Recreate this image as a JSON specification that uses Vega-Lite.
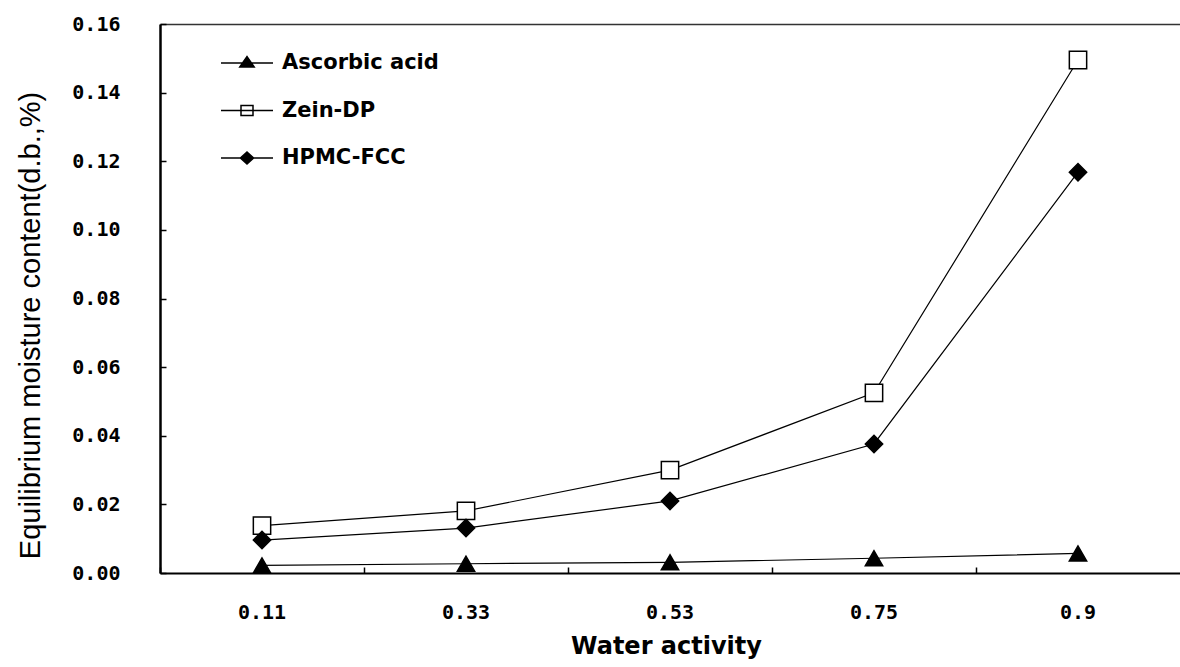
{
  "$schema": "https://vega.github.io/schema/vega-lite/v6.json",
  "width": 1020,
  "height": 549,
  "autosize": "none",
  "padding": {"left": 160, "top": 24, "right": 0, "bottom": 94},
  "background": "white",
  "data": {
    "values": [
      {"aw": "0.11", "series": "Ascorbic acid", "emc": 0.0022},
      {"aw": "0.33", "series": "Ascorbic acid", "emc": 0.0027},
      {"aw": "0.53", "series": "Ascorbic acid", "emc": 0.0031},
      {"aw": "0.75", "series": "Ascorbic acid", "emc": 0.0043},
      {"aw": "0.9", "series": "Ascorbic acid", "emc": 0.0057},
      {"aw": "0.11", "series": "Zein-DP", "emc": 0.0138},
      {"aw": "0.33", "series": "Zein-DP", "emc": 0.0181},
      {"aw": "0.53", "series": "Zein-DP", "emc": 0.0300},
      {"aw": "0.75", "series": "Zein-DP", "emc": 0.0525},
      {"aw": "0.9", "series": "Zein-DP", "emc": 0.1495},
      {"aw": "0.11", "series": "HPMC-FCC", "emc": 0.0096},
      {"aw": "0.33", "series": "HPMC-FCC", "emc": 0.0131},
      {"aw": "0.53", "series": "HPMC-FCC", "emc": 0.0210},
      {"aw": "0.75", "series": "HPMC-FCC", "emc": 0.0376},
      {"aw": "0.9", "series": "HPMC-FCC", "emc": 0.1168}
    ]
  },
  "encoding": {
    "y": {
      "field": "emc", "type": "quantitative",
      "scale": {"domain": [0, 0.16], "nice": false},
      "axis": {
        "values": [0, 0.02, 0.04, 0.06, 0.08, 0.1, 0.12, 0.14, 0.16],
        "format": ".2f", "tickSize": -6, "tickWidth": 1.5, "labelPadding": 46, "domainWidth": 2.5,
        "title": "Equilibrium moisture content(d.b.,%)", "titleFont": "Liberation Sans",
        "titleFontSize": 29, "titleFontWeight": "normal", "titleX": -130, "titleY": 301,
        "titleAngle": -90, "titleBaseline": "middle", "titleAlign": "center"
      }
    }
  },
  "layer": [
    {
      "mark": {"type": "line", "color": "black", "strokeWidth": 1.2},
      "encoding": {
        "x": {
          "field": "aw", "type": "ordinal", "sort": null,
          "scale": {"type": "band", "paddingInner": 0, "paddingOuter": 0},
          "axis": {
            "orient": "bottom", "ticks": false,
            "labelPadding": 45, "labelBaseline": "alphabetic",
            "labelAngle": 0, "domainWidth": 2,
            "title": "Water activity", "titleFont": "DejaVu Sans", "titleFontWeight": "bold",
            "titleFontSize": 24, "titleX": 506, "titleY": 80, "titleBaseline": "alphabetic",
            "titleAlign": "center"
          }
        },
        "detail": {"field": "series"}
      }
    },
    {
      "mark": {"type": "point", "size": 300, "stroke": "black", "strokeWidth": 1.5, "opacity": 1},
      "encoding": {
        "x": {"field": "aw", "type": "ordinal", "sort": null,
          "axis": {"orient": "bottom", "bandPosition": 0, "labels": false, "domain": false, "title": null,
            "ticks": true, "tickSize": -6, "tickWidth": 1.5}},
        "shape": {
          "field": "series", "type": "nominal",
          "scale": {"domain": ["Ascorbic acid", "Zein-DP", "HPMC-FCC"], "range": ["triangle-up", "square", "diamond"]},
          "legend": null
        },
        "fill": {
          "field": "series", "type": "nominal",
          "scale": {"domain": ["Ascorbic acid", "Zein-DP", "HPMC-FCC"], "range": ["black", "white", "black"]},
          "legend": null
        }
      }
    },
    {
      "mark": {"type": "point", "size": 1600, "stroke": "black", "strokeWidth": 1.5, "opacity": 0},
      "encoding": {
        "x": {"field": "aw", "type": "ordinal", "sort": null,
          "axis": {"orient": "top", "labels": false, "ticks": false, "title": null, "domainColor": "#333", "domainWidth": 1.5}},
        "shape": {
          "field": "series", "type": "nominal",
          "scale": {"domain": ["Ascorbic acid", "Zein-DP", "HPMC-FCC"],
            "range": [
              "M-1.3,0H1.3M-0.36,0.2L0,-0.32L0.36,0.2Z",
              "M-1.3,0H1.3M-0.3,-0.25H0.3V0.25H-0.3Z",
              "M-1.3,0H1.3M0,-0.3L0.33,0L0,0.3L-0.33,0Z"
            ]},
          "legend": {"title": null, "orient": "none", "legendX": 66, "legendY": 18,
            "encode": {"symbols": {"update": {"stroke": {"value": "black"}, "strokeWidth": {"value": 1.5}, "opacity": {"value": 1}}}}}
        },
        "fill": {
          "field": "series", "type": "nominal",
          "scale": {"domain": ["Ascorbic acid", "Zein-DP", "HPMC-FCC"], "range": ["black", "white", "black"]},
          "legend": {"title": null, "orient": "none", "legendX": 66, "legendY": 18,
            "encode": {"symbols": {"update": {"stroke": {"value": "black"}, "strokeWidth": {"value": 1.5}, "opacity": {"value": 1}}}}}
        }
      }
    }
  ],
  "resolve": {
    "scale": {"shape": "independent", "fill": "independent"},
    "axis": {"x": "independent"}
  },
  "config": {
    "view": {"stroke": null},
    "axis": {
      "grid": false,
      "labelFont": "DejaVu Sans Mono", "labelFontWeight": "bold", "labelFontSize": 20,
      "labelColor": "black", "domainColor": "black", "tickColor": "black", "titleColor": "black"
    },
    "legend": {
      "symbolSize": 1600, "symbolOpacity": 1, "symbolStrokeColor": "black", "symbolStrokeWidth": 1.5,
      "labelFont": "DejaVu Sans", "labelFontWeight": "bold", "labelFontSize": 21, "labelColor": "black",
      "labelOffset": 14, "rowPadding": 16.5, "padding": 0
    }
  }
}
